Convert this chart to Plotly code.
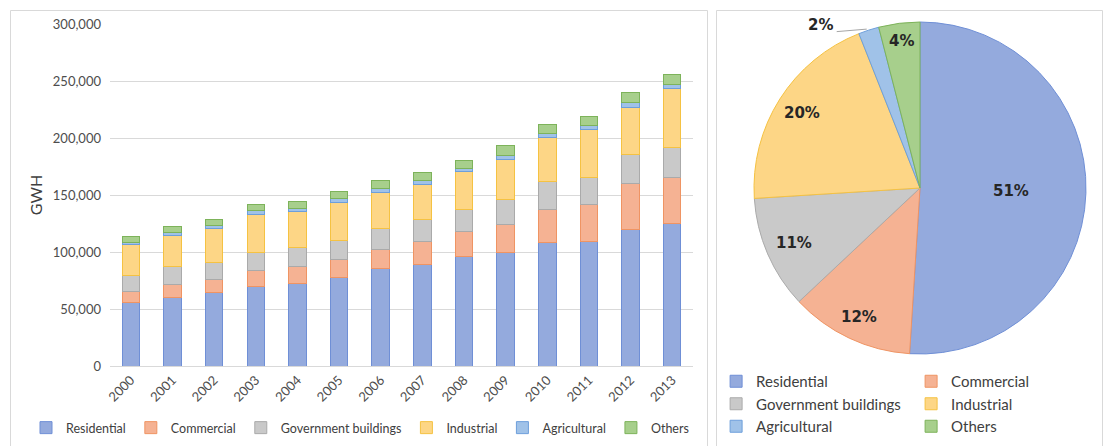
import math
import plotly.graph_objects as go

# ---- data -------------------------------------------------------------
years = ["2000", "2001", "2002", "2003", "2004", "2005", "2006",
         "2007", "2008", "2009", "2010", "2011", "2012", "2013"]

categories = ["Residential", "Commercial", "Government buildings",
              "Industrial", "Agricultural", "Others"]

residential = [55500, 60500, 64900, 69900, 72500, 77500, 85400,
               89200, 95900, 100000, 108200, 108800, 119600, 125200]
commercial = [9700, 11100, 11100, 14300, 14900, 16100, 16600,
              19600, 22200, 24300, 29200, 32700, 40100, 40000]
government = [14000, 15800, 15200, 15500, 16400, 16100, 18200,
              19900, 19600, 21900, 24600, 24000, 26000, 26600]
industrial = [27500, 27500, 29200, 33600, 31500, 33300, 32400,
              30100, 32500, 34800, 38300, 42100, 41200, 51200]
agricultural = [1800, 2400, 2600, 2900, 3000, 4000, 2900,
                3500, 3200, 3500, 3500, 3500, 4400, 4100]
others = [5500, 5200, 5700, 5300, 5800, 5900, 7400,
          7600, 7300, 8800, 8200, 8200, 8800, 9000]

# share of consumption by sector (%)
pie_share = [51, 12, 11, 20, 2, 4]

y_ticks = [0, 50000, 100000, 150000, 200000, 250000, 300000]

# ---- styling ----------------------------------------------------------
W, H = 1105, 446

fill = ["#94aadd", "#f5b293", "#c9c9c9", "#fdd686", "#a0c2e8", "#a7cf8c"]
edge = ["#6f8fd6", "#ef9463", "#aaaaaa", "#f5c242", "#6d9fdb", "#7db35a"]

TEXT = "#4d4d4d"
FONT = "Lato"


def fx(px):
    """pixel column -> paper x"""
    return px / W


def fy(px):
    """pixel row -> paper y"""
    return (H - px) / H


fig = go.Figure()

series = [residential, commercial, government, industrial, agricultural, others]
for name, vals, fc, lc in zip(categories, series, fill, edge):
    fig.add_trace(go.Bar(
        x=years, y=vals, name=name,
        marker=dict(color=fc, line=dict(color=lc, width=1)),
        legend="legend",
        hovertemplate=name + " %{x}: %{y:,} GWH<extra></extra>",
    ))

# pie geometry
PIE_CX, PIE_CY, PIE_R = 920, 188, 166
pie_dom_x = [fx(PIE_CX - PIE_R), fx(PIE_CX + PIE_R)]
pie_dom_y = [fy(PIE_CY + PIE_R), fy(PIE_CY - PIE_R)]

fig.add_trace(go.Pie(
    labels=categories, values=pie_share,
    sort=False, direction="clockwise", rotation=0,
    textinfo="none",
    marker=dict(colors=fill, line=dict(color=edge, width=1)),
    domain=dict(x=pie_dom_x, y=pie_dom_y),
    legend="legend2",
    hovertemplate="%{label}: %{percent}<extra></extra>",
))

# percentage labels placed along each slice's mid-angle
label_radius = [0.55, 0.86, 0.83, 0.84, None, 0.89]
total = sum(pie_share)
annotations = []
shapes = []
cum = 0.0
for val, rf in zip(pie_share, label_radius):
    mid = (cum + val / 2) / total * 2 * math.pi
    cum += val
    sx, sy = math.sin(mid), math.cos(mid)
    if rf is not None:
        px_ = PIE_CX + rf * PIE_R * sx
        py_ = PIE_CY - rf * PIE_R * sy
        annotations.append(dict(
            x=fx(px_), y=fy(py_), xref="paper", yref="paper",
            text=f"{val}%", showarrow=False,
            font=dict(family="DejaVu Sans", size=15, color="#262626", weight="bold"),
            xanchor="center", yanchor="middle",
        ))
    else:
        ex = PIE_CX + PIE_R * sx
        ey = PIE_CY - PIE_R * sy
        shapes.append(dict(
            type="line", xref="paper", yref="paper",
            x0=fx(ex - 2), y0=fy(ey - 1), x1=fx(ex - 32), y1=fy(ey + 1.5),
            line=dict(color="#a6a6a6", width=1),
        ))
        annotations.append(dict(
            x=fx(ex - 34), y=fy(ey - 5), xref="paper", yref="paper",
            text=f"{val}%", showarrow=False,
            font=dict(family="DejaVu Sans", size=15, color="#262626", weight="bold"),
            xanchor="right", yanchor="middle",
        ))

# panel frames
for x0, x1 in [(10.5, 707.5), (716.5, 1102.5)]:
    shapes.append(dict(
        type="rect", xref="paper", yref="paper",
        x0=fx(x0), x1=fx(x1), y0=-0.1, y1=fy(10.5),
        line=dict(color="#d9d9d9", width=1), fillcolor="rgba(0,0,0,0)",
        layer="below",
    ))

fig.update_layout(
    width=W, height=H,
    margin=dict(l=0, r=0, t=0, b=0, autoexpand=False),
    paper_bgcolor="white", plot_bgcolor="white",
    barmode="stack", bargap=0.58,
    font=dict(family=FONT, color=TEXT),
    xaxis=dict(
        domain=[fx(110), fx(693)], type="category",
        tickangle=-45, showgrid=False, showline=False, ticks="",
        zeroline=False, ticklabelstandoff=3,
        tickfont=dict(family=FONT, size=13, color=TEXT),
    ),
    yaxis=dict(
        domain=[fy(366), fy(24)], range=[0, 300000],
        tickvals=y_ticks, tickformat=",",
        gridcolor="#d9d9d9", gridwidth=1,
        zeroline=True, zerolinecolor="#d9d9d9", zerolinewidth=1,
        showline=False, ticks="", ticklabelstandoff=8,
        tickfont=dict(family=FONT, size=13, color=TEXT),
        title=dict(text="GWH", standoff=6,
                   font=dict(family=FONT, size=16, color="#404040")),
    ),
    legend=dict(
        orientation="h", traceorder="normal",
        x=fx(360), xanchor="center", y=fy(428), yanchor="middle",
        font=dict(family=FONT, size=12.5, color="#404040"),
        bgcolor="rgba(0,0,0,0)",
    ),
    legend2=dict(
        orientation="h", traceorder="normal",
        x=1.001, xanchor="right", y=fy(365), yanchor="top",
        entrywidth=150,
        font=dict(family=FONT, size=15, color="#404040"),
        bgcolor="rgba(0,0,0,0)",
    ),
    annotations=annotations,
    shapes=shapes,
)

fig.write_html("out.html")
